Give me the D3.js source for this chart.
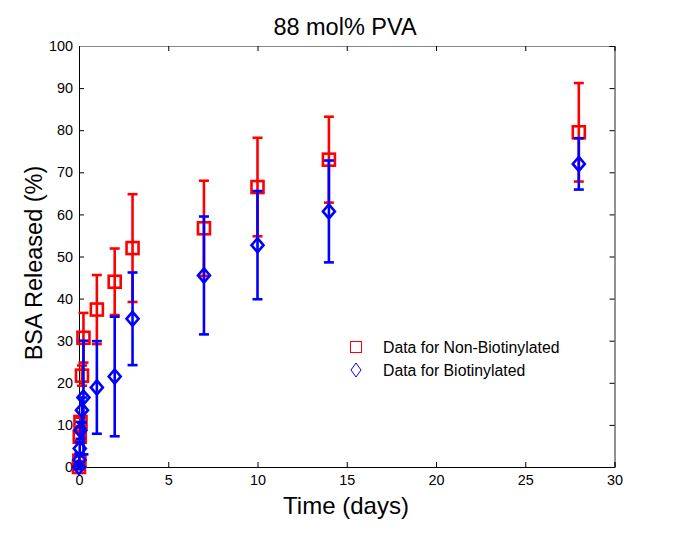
<!DOCTYPE html>
<html><head><meta charset="utf-8">
<script src="https://cdn.jsdelivr.net/npm/d3@7/dist/d3.min.js"></script>
<style>body{margin:0;background:#fff}svg{display:block}text{font-family:"Liberation Sans",Arial,sans-serif}</style>
</head><body><svg id="c" width="685" height="535"></svg>
<script>
const times = [0, 0.021, 0.042, 0.083, 0.167, 0.25, 1, 2, 3, 7, 10, 14, 28];
const nonBiotValues = [0, 1.5, 7.2, 10.7, 21.7, 30.7, 37.4, 44, 52, 56.7, 66.5, 73, 79.5];
const nonBiotErrors = [0.5, 1, 1, 1, 2.4, 5.9, 8.2, 7.9, 12.8, 11.3, 11.7, 10.2, 11.7];
const biotValues = [0, 1.7, 4.4, 8.7, 13.5, 16.5, 18.9, 21.5, 35.2, 45.5, 52.7, 60.7, 72];
const biotErrors = [0.5, 1.5, 1.5, 2, 3, 13.5, 11, 14.2, 11, 14, 12.85, 12.1, 6.1];
const xTicks = [0, 5, 10, 15, 20, 25, 30];
const yTicks = [0, 10, 20, 30, 40, 50, 60, 70, 80, 90, 100];
const seriesNames = ["Data for Non-Biotinylated", "Data for Biotinylated"];

const svg = d3.select("#c");
const L = 79, R = 614.5, T = 46, B = 467;
const x = d3.scaleLinear().domain([0, 30]).range([L, R]);
const y = d3.scaleLinear().domain([0, 100]).range([B, T]);

const ax = d3.axisBottom(x).tickValues(xTicks).tickSize(-5).tickPadding(8);
const ay = d3.axisLeft(y).tickValues(yTicks).tickSize(-5).tickPadding(6);
const gx = svg.append("g").attr("transform", `translate(0,${B})`).call(ax);
const gy = svg.append("g").attr("transform", `translate(${L},0)`).call(ay);
const gxt = svg.append("g").attr("transform", `translate(0,${T})`).call(d3.axisTop(x).tickValues(xTicks).tickSize(-5).tickFormat(""));
const gyr = svg.append("g").attr("transform", `translate(${R},0)`).call(d3.axisRight(y).tickValues(yTicks).tickSize(-5).tickFormat(""));
[gx, gy, gxt, gyr].forEach(g => {
  g.select(".domain").attr("stroke", "#000").attr("stroke-width", 1);
  g.selectAll(".tick line").attr("stroke", "#000");
  g.selectAll(".tick text").attr("font-size", 14.4).attr("fill", "#000");
});
gxt.select(".domain").attr("stroke", "#888");
gyr.select(".domain").attr("stroke", "#222");

const plot = svg.append("g");
function drawSeries(vals, errs, color, shape) {
  const g = plot.append("g");
  const cap = 5;
  times.forEach((t, i) => {
    const cx = x(t), v = vals[i], e = errs[i];
    g.append("line").attr("x1", cx).attr("x2", cx).attr("y1", y(v - e)).attr("y2", y(v + e))
      .attr("stroke", color).attr("stroke-width", 2.6);
    [v - e, v + e].forEach(w => g.append("line").attr("x1", cx - cap).attr("x2", cx + cap)
      .attr("y1", y(w)).attr("y2", y(w)).attr("stroke", color).attr("stroke-width", 2.6));
  });
  times.forEach((t, i) => {
    const cx = x(t), cy = y(vals[i]);
    if (shape === "square") {
      g.append("rect").attr("x", cx - 6).attr("y", cy - 6).attr("width", 12).attr("height", 12)
        .attr("fill", "none").attr("stroke", color).attr("stroke-width", 2.6);
    } else {
      g.append("path").attr("d", `M${cx},${cy-7}L${cx+6},${cy}L${cx},${cy+7}L${cx-6},${cy}Z`)
        .attr("fill", "none").attr("stroke", color).attr("stroke-width", 2.6);
    }
  });
}
drawSeries(nonBiotValues, nonBiotErrors, "#ff0000", "square");
drawSeries(biotValues, biotErrors, "#0000ff", "diamond");

const lg = svg.append("g");
lg.append("rect").attr("x", 350.5).attr("y", 341.5).attr("width", 11).attr("height", 11)
  .attr("fill", "none").attr("stroke", "#ff0000").attr("stroke-width", 1);
lg.append("path").attr("d", "M356,363L361,370L356,377L351,370Z").attr("fill", "none").attr("stroke", "#0000ff").attr("stroke-width", 1);
lg.append("text").attr("x", 383).attr("y", 353).attr("font-size", 15.8).text(seriesNames[0]);
lg.append("text").attr("x", 383).attr("y", 376).attr("font-size", 15.8).text(seriesNames[1]);

svg.append("text").attr("x", 345).attr("y", 35).attr("text-anchor", "middle").attr("font-size", 23.5).text("88 mol% PVA");
svg.append("text").attr("x", 346).attr("y", 514).attr("text-anchor", "middle").attr("font-size", 24).text("Time (days)");
svg.append("text").attr("transform", "translate(42,263) rotate(-90)").attr("text-anchor", "middle").attr("font-size", 23.5).text("BSA Released (%)");
</script></body></html>
